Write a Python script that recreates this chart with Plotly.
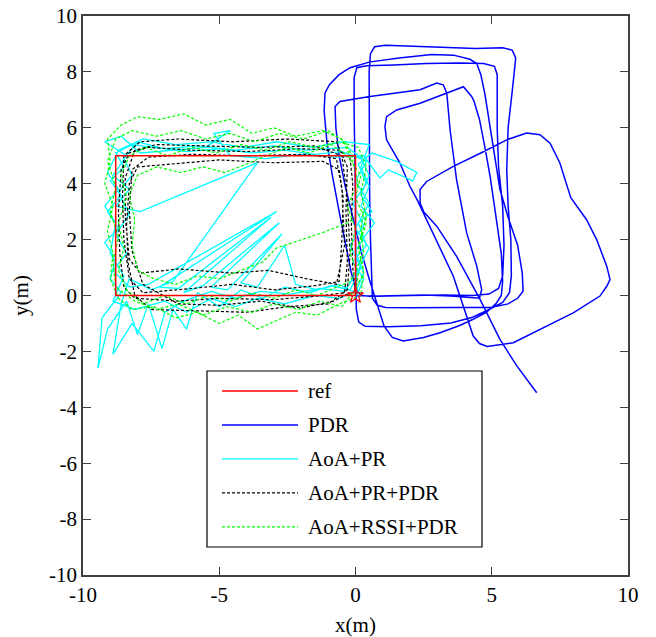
import plotly.graph_objects as go

# ---------------- data (metres) ----------------
ref_x = [0, 0, -8.8, -8.8, 0]
ref_y = [0, 5.0, 5.0, 0, 0]
start_x = [0]
start_y = [0]

pdr_pts = [
    # lap 1
    (0, 0), (0.8, -0.03), (2.0, 0.0), (3.2, 0.02), (4.3, 0.0), (4.9, 0.05), (5.25, 0.25), (5.4, 0.7),
    (5.45, 1.8), (5.4, 3.2), (5.25, 4.6), (5.2, 6.0), (5.2, 7.2), (5.2, 7.9), (5.1, 8.2), (4.7, 8.3),
    (3.8, 8.32), (2.6, 8.3), (1.4, 8.25), (0.4, 8.22), (0.05, 8.15), (-0.05, 7.8), (-0.05, 6.5),
    (-0.02, 5.0), (0.0, 3.5), (0.0, 2.0), (0.02, 0.6), (0.03, -0.5), (0.12, -0.95), (0.35, -1.1),
    # lap 2
    (1.2, -1.12), (2.4, -1.08), (3.5, -0.98), (4.3, -0.78), (4.9, -0.5), (5.4, -0.25), (5.65, 0.1),
    (5.72, 0.7), (5.7, 2.0), (5.6, 3.2), (5.55, 4.5), (5.6, 6.0), (5.75, 7.3), (5.85, 8.1), (5.88, 8.5),
    (5.75, 8.78), (5.4, 8.86), (4.4, 8.84), (3.2, 8.88), (2.0, 8.93), (1.1, 8.95), (0.7, 8.9),
    (0.55, 8.65), (0.5, 8.0), (0.5, 6.5), (0.5, 5.0), (0.52, 3.5), (0.55, 2.0), (0.58, 0.6),
    (0.62, -0.1), (0.8, -0.35), (1.1, -0.43),
    # lap 3
    (2.0, -0.44), (3.0, -0.43), (4.1, -0.44), (5.0, -0.42), (5.6, -0.3), (5.95, -0.1), (6.15, 0.15),
    (6.12, 0.8), (5.95, 1.8), (5.6, 2.8), (5.3, 3.8), (5.1, 5.0), (4.9, 6.2), (4.75, 7.2), (4.6, 7.9),
    (4.45, 8.3), (4.2, 8.45), (3.6, 8.6), (2.8, 8.62), (1.6, 8.5), (0.5, 8.35), (-0.2, 8.15),
    (-0.6, 7.9), (-0.95, 7.55), (-1.12, 7.25), (-1.15, 6.6), (-1.05, 5.5), (-0.85, 4.3), (-0.6, 3.0),
    (-0.35, 1.8), (-0.15, 0.8), (0.0, 0.25), (0.2, 0.0), (0.5, -0.03),
    # lap 4
    (1.4, 0.0), (2.5, 0.02), (3.5, -0.02), (4.2, -0.08), (4.55, -0.1), (4.63, 0.21), (4.45, 1.05),
    (4.08, 2.24), (3.84, 3.43), (3.71, 4.14), (3.47, 5.93), (3.38, 6.9), (3.35, 7.24), (3.22, 7.54),
    (2.98, 7.6), (2.37, 7.36), (1.5, 7.25), (0.53, 7.12), (-0.57, 6.94), (-0.75, 6.76), (-0.72, 6.0),
    (-0.6, 5.0), (-0.4, 4.0), (-0.1, 2.8), (0.2, 1.6), (0.5, 0.6), (0.8, -0.3), (1.05, -1.1),
    (1.35, -1.5), (1.75, -1.63),
    # lap 5
    (2.5, -1.5), (3.1, -1.33), (3.8, -1.08), (4.3, -0.86), (4.8, -0.6), (5.15, -0.3), (5.35, 0.0),
    (5.4, 0.5), (5.35, 1.5), (5.2, 2.5), (5.12, 3.07), (4.95, 4.2), (4.75, 5.3), (4.55, 6.3),
    (4.35, 6.95), (4.26, 7.12), (3.96, 7.47), (3.2, 7.2), (2.37, 6.88), (1.51, 6.64), (1.14, 6.4),
    (1.08, 6.05), (1.14, 5.57), (1.63, 4.74), (2.0, 3.9), (2.26, 3.43), (2.61, 2.71), (3.1, 1.64),
    (3.59, 0.69), (4.08, -0.74), (4.32, -1.45), (4.55, -1.72), (4.83, -1.82),
    # lap 6
    (5.79, -1.69), (6.77, -1.21), (7.99, -0.62), (8.97, -0.02), (9.22, 0.33), (9.34, 0.57),
    (9.22, 1.05), (8.85, 2.0), (8.48, 2.71), (7.9, 3.5), (7.5, 4.74), (7.14, 5.45), (6.77, 5.75),
    (6.28, 5.81), (5.55, 5.57), (4.6, 5.1), (3.59, 4.62), (2.61, 4.08), (2.37, 3.79), (2.37, 3.31),
    (2.5, 3.0), (2.98, 2.48), (3.71, 1.4), (4.57, -0.14), (5.3, -1.57), (5.92, -2.52), (6.3, -3.0),
    (6.65, -3.48),
]

aoa_pr_pts = [
    (0.05, 0.0), (0.3, 0.6), (-0.1, 1.2), (0.4, 1.8), (0.1, 2.6), (0.6, 3.0), (0.2, 3.6), (0.5, 4.3),
    (0.2, 4.9), (-0.5, 5.15), (-1.5, 5.05), (-2.6, 5.2), (-3.8, 5.1), (-5.0, 5.25), (-6.2, 5.15),
    (-7.3, 5.3), (-8.2, 5.4), (-8.8, 5.1), (-8.5, 4.6), (-9.0, 4.1), (-8.6, 3.6), (-9.1, 3.0),
    (-8.7, 2.4), (-9.2, 1.9), (-8.8, 1.3), (-9.0, 0.6), (-8.6, 0.1), (-9.3, -0.8), (-9.45, -2.6),
    (-9.1, -1.2), (-8.4, -0.2), (-8.0, -1.4), (-7.6, -0.3), (-7.1, -1.9), (-6.7, -0.5), (-6.2, -1.2),
    (-5.8, 0.1), (-5.0, -0.4), (-4.2, 0.2), (-3.4, -0.1), (-2.6, 0.3), (-1.7, 0.1), (-0.9, 0.35),
    (-0.2, 0.2),
    (0.2, 1.0), (-0.2, 1.8), (0.3, 2.5), (-0.1, 3.3), (0.4, 4.0), (0.1, 4.7), (0.6, 5.1), (1.5, 4.8),
    (2.25, 4.4), (2.1, 4.1), (1.2, 4.5), (0.9, 4.2), (0.3, 5.0), (-0.8, 4.95), (-2.0, 5.05),
    (-3.3, 4.9), (-4.6, 5.0), (-5.2, 5.8), (-4.6, 5.9), (-5.5, 5.3), (-6.8, 5.2), (-7.9, 5.1),
    (-8.6, 5.7), (-9.2, 5.5), (-8.4, 5.0), (-8.9, 4.3), (-8.3, 3.8), (-8.8, 3.2), (-7.9, 3.0),
    (-3.6, 4.75), (-6.7, 0.5), (-7.5, 0.2), (-8.3, 0.6), (-8.6, -0.3), (-8.9, -2.1), (-8.2, -1.0),
    (-7.4, -2.0), (-7.0, -0.6), (-6.3, -0.2), (-5.3, 0.15), (-4.4, -0.1), (-3.5, 0.15), (-2.4, 0.05),
    (-1.3, 0.25), (-0.4, 0.15),
    (0.1, 0.9), (0.5, 1.7), (0.0, 2.4), (0.5, 3.3), (0.0, 4.1), (0.4, 4.8), (-0.3, 5.3), (-1.8, 5.2),
    (-3.0, 5.35), (-4.4, 5.2), (-5.8, 5.35), (-7.0, 5.25), (-8.0, 5.5), (-8.5, 4.9), (-8.2, 4.3),
    (-8.7, 3.7), (-8.3, 2.9), (-8.8, 2.2), (-8.4, 1.5), (-8.9, 0.9), (-8.3, 0.3), (-7.6, 0.4),
    (-2.9, 3.0), (-7.2, 0.3), (-6.5, 0.25), (-3.1, 2.8), (-6.3, 0.1), (-5.6, 0.35), (-2.8, 2.6),
    (-5.3, 0.3), (-4.7, 0.2), (-2.7, 2.2), (-4.2, 0.45), (-3.6, 0.3), (-2.6, 1.8), (-2.2, 0.4),
    (-1.4, 0.2), (-0.6, 0.4), (0.0, 0.1),
    (0.3, 0.8), (0.0, 1.6), (0.4, 2.2), (0.7, 2.6), (0.2, 3.2), (0.5, 3.9), (0.2, 4.6), (0.5, 5.4),
    (-0.4, 5.5), (-1.6, 5.3), (-2.9, 5.5), (-4.1, 5.3), (-5.3, 5.5), (-6.6, 5.4), (-7.8, 5.6),
    (-8.7, 5.2), (-9.1, 4.4), (-8.7, 3.8), (-9.2, 3.2), (-8.8, 2.6), (-9.0, 1.5), (-8.5, 0.7),
    (-8.9, -0.2), (-8.1, -0.5), (-7.0, -0.2), (-6.2, -0.6), (-5.3, -0.1), (-4.4, -0.4), (-3.6, -0.1),
    (-2.6, -0.3), (-1.5, 0.0), (-0.6, -0.1), (0.1, 0.2),
]

aoa_pr_pdr_pts = [
    (0, 0), (-0.1, 1.0), (-0.15, 2.5), (-0.1, 4.0), (-0.2, 4.9), (-0.6, 5.2), (-2.0, 5.25),
    (-4.0, 5.15), (-6.0, 5.2), (-7.6, 5.3), (-8.3, 5.1), (-8.6, 4.5), (-8.7, 3.0), (-8.65, 1.5),
    (-8.5, 0.3), (-8.1, -0.1), (-6.5, -0.2), (-5.0, -0.1), (-3.0, -0.15), (-1.2, 0.0), (-0.4, 0.1),
    (-0.3, 1.2), (-0.35, 3.0), (-0.3, 4.6), (-0.7, 5.5), (-2.5, 5.6), (-4.5, 5.5), (-6.5, 5.6),
    (-7.9, 5.5), (-8.5, 5.0), (-8.55, 3.5), (-8.5, 2.0), (-8.3, 0.6), (-7.8, 0.1), (-6.0, 0.25),
    (-4.5, 0.4), (-3.0, 0.2), (-1.5, 0.35), (-0.6, 0.5),
    (-0.5, 2.0), (-0.45, 3.5), (-0.6, 4.5), (-1.2, 4.8), (-3.0, 4.75), (-5.0, 4.85), (-7.0, 4.7),
    (-8.0, 4.6), (-8.3, 4.0), (-8.4, 2.5), (-8.35, 1.2), (-8.1, 0.0), (-7.5, -0.5), (-6.0, -0.55),
    (-4.0, -0.6), (-2.5, -0.4), (-1.0, -0.3), (-0.3, 0.2),
    (-0.2, 1.5), (-0.3, 3.5), (-0.5, 5.0), (-1.5, 5.35), (-3.5, 5.3), (-5.5, 5.35), (-7.3, 5.4),
    (-8.1, 5.2), (-8.45, 4.2), (-8.45, 2.8), (-8.3, 1.3), (-7.9, 0.8), (-6.5, 0.95), (-4.5, 0.8),
    (-3.2, 0.9), (-1.8, 0.6), (-0.7, 0.4),
    (-0.4, 1.8), (-0.5, 3.8), (-0.7, 4.9), (-1.8, 5.05), (-4.0, 5.0), (-6.0, 5.05), (-7.6, 4.95),
    (-8.2, 4.5), (-8.3, 3.0), (-8.2, 1.6), (-7.8, 0.4), (-6.5, -0.3), (-5.0, -0.35), (-3.5, -0.2),
    (-2.0, -0.45), (-0.8, -0.2), (-0.2, 0.1),
]

aoa_rssi_pdr_pts = [
    (0, 0), (0.1, 0.8), (-0.2, 1.5), (0.0, 2.4), (-0.3, 3.2), (0.1, 4.0), (-0.1, 4.8), (-0.5, 5.6),
    (-1.2, 5.9), (-2.2, 5.7), (-3.0, 6.0), (-3.8, 5.8), (-4.6, 6.3), (-5.5, 6.1), (-6.3, 6.5),
    (-7.2, 6.3), (-8.0, 6.4), (-8.6, 6.1), (-9.1, 5.6), (-9.0, 4.8), (-9.2, 4.0), (-8.9, 3.2),
    (-9.1, 2.3), (-8.9, 1.5), (-9.0, 0.6), (-8.7, -0.1), (-8.2, -0.5), (-7.4, -0.4), (-6.6, -0.8),
    (-5.8, -0.6), (-5.0, -1.0), (-4.3, -0.7), (-3.6, -1.2), (-2.9, -0.9), (-2.2, -0.6), (-1.4, -0.7),
    (-0.6, -0.3), (0.2, 0.0),
    (0.3, 0.9), (0.1, 1.8), (0.4, 2.8), (0.2, 3.7), (0.4, 4.6), (0.1, 5.3), (-0.6, 5.5), (-1.5, 5.3),
    (-2.4, 5.5), (-3.3, 5.2), (-4.2, 5.4), (-5.1, 5.1), (-6.0, 5.3), (-6.9, 5.0), (-7.7, 5.3),
    (-8.3, 5.0), (-8.6, 4.3), (-8.4, 3.5), (-8.7, 2.6), (-8.5, 1.7), (-8.7, 0.9), (-8.4, 0.2),
    (-7.8, -0.3), (-7.0, 0.0), (-6.2, -0.3), (-5.4, 0.0), (-4.6, -0.2), (-3.8, 0.1), (-3.0, -0.1),
    (-2.2, 0.2), (-1.4, 0.0), (-0.7, 0.3), (-0.2, 0.5),
    (0.3, 1.5), (0.2, 2.4), (0.3, 3.0), (-0.3, 2.6), (-1.2, 2.25), (-2.0, 2.0), (-2.9, 1.7),
    (-3.4, 1.2), (-4.2, 0.9), (-5.0, 0.6), (-5.8, 0.7), (-6.6, 0.4), (-7.4, 0.6), (-8.0, 0.9),
    (-8.2, 1.8), (-8.1, 2.7), (-8.3, 3.6), (-8.0, 4.3), (-7.3, 4.6), (-6.4, 4.4), (-5.6, 4.6),
    (-4.8, 4.4), (-4.0, 4.7), (-3.3, 5.0), (-2.5, 5.3), (-1.7, 5.1), (-0.9, 5.4), (-0.3, 5.0),
    (0.2, 4.3), (0.0, 3.5), (0.4, 2.6), (0.1, 1.7), (0.3, 0.8), (-0.1, 0.1),
    (-0.5, -0.4), (-1.3, -0.2), (-2.1, -0.5), (-3.0, -0.3), (-3.8, -0.6), (-4.7, -0.4), (-5.6, -0.7),
    (-6.5, -0.3), (-7.3, -0.5), (-8.1, -0.2), (-8.8, 0.3), (-8.9, 1.2), (-8.7, 2.1), (-9.0, 3.0),
    (-8.8, 3.9), (-9.1, 4.8), (-8.8, 5.6), (-8.2, 5.9), (-7.3, 5.7), (-6.4, 5.9), (-5.5, 5.6),
    (-4.6, 5.8), (-3.7, 5.5), (-2.8, 5.8), (-1.9, 5.6), (-1.0, 5.9), (-0.4, 5.5), (0.0, 4.8),
]

legend_labels = ["ref", "PDR", "AoA+PR", "AoA+PR+PDR", "AoA+RSSI+PDR"]
x_ticks = [-10, -5, 0, 5, 10]
y_ticks = [-10, -8, -6, -4, -2, 0, 2, 4, 6, 8, 10]

# ---------------- styles ----------------
styles = {
    "ref": dict(color="#ff0000", width=1.5, dash="solid"),
    "PDR": dict(color="#0000ff", width=1.5, dash="solid"),
    "AoA+PR": dict(color="#00ffff", width=1.3, dash="solid"),
    "AoA+PR+PDR": dict(color="#000000", width=1.2, dash="3px,2px"),
    "AoA+RSSI+PDR": dict(color="#00ff00", width=1.2, dash="3px,2px"),
}
FONT = "Liberation Serif"


def xy(pts):
    return [p[0] for p in pts], [p[1] for p in pts]


fig = go.Figure()
for name, pts in [("PDR", pdr_pts), ("AoA+PR", aoa_pr_pts),
                  ("AoA+PR+PDR", aoa_pr_pdr_pts), ("AoA+RSSI+PDR", aoa_rssi_pdr_pts)]:
    px_, py_ = xy(pts)
    fig.add_trace(go.Scatter(x=px_, y=py_, mode="lines", name=name,
                             line=styles[name], showlegend=False))
fig.add_trace(go.Scatter(x=ref_x, y=ref_y, mode="lines", name="ref",
                         line=styles["ref"], showlegend=False))
fig.add_trace(go.Scatter(x=start_x, y=start_y, mode="markers", showlegend=False,
                         marker=dict(symbol="star-open", size=12, color="#ff0000",
                                     line=dict(width=1.2, color="#ff0000"))))

# ---------------- manual legend (paper coords) ----------------
box_x0, box_x1, box_y0, box_y1 = 0.2275, 0.7321, 0.0501, 0.3649
fig.add_shape(type="rect", xref="paper", yref="paper", x0=box_x0, x1=box_x1, y0=box_y0, y1=box_y1,
              line=dict(color="#000000", width=1.2), fillcolor="white", layer="above")
row_top, row_step = 0.3292, 0.0608
for i, lab in enumerate(legend_labels):
    yy = row_top - i * row_step
    st = styles[lab]
    fig.add_shape(type="line", xref="paper", yref="paper", x0=0.255, x1=0.3945, y0=yy, y1=yy,
                  line=dict(color=st["color"], width=st["width"], dash=st["dash"]), layer="above")
    fig.add_annotation(xref="paper", yref="paper", x=0.409, y=yy, text=lab, showarrow=False,
                       xanchor="left", yanchor="middle",
                       font=dict(family=FONT, size=21, color="#000000"))

axis_common = dict(showline=True, mirror="ticks", linecolor="#404040", linewidth=1.5,
                   ticks="inside", ticklen=8, tickwidth=1.2, tickcolor="#404040",
                   showgrid=False, zeroline=False, automargin=False,
                   tickfont=dict(family=FONT, size=21, color="#000000"))
fig.update_xaxes(range=[-10, 10], tickvals=x_ticks, ticktext=[str(v) for v in x_ticks],
                 title=dict(text="x(m)", font=dict(family=FONT, size=21, color="#000000")),
                 **axis_common)
fig.update_yaxes(range=[-10, 10], tickvals=y_ticks, ticktext=[str(v) for v in y_ticks],
                 title=dict(text="y(m)", font=dict(family=FONT, size=21, color="#000000")),
                 **axis_common)
fig.update_layout(width=656, height=637, margin=dict(l=83, r=28, t=16, b=62),
                  plot_bgcolor="white", paper_bgcolor="white", showlegend=False,
                  font=dict(family=FONT))
fig.write_html("out.html", config={"displayModeBar": False},
               post_script="document.body.style.margin='0';document.body.style.padding='0';"
                           "document.body.style.overflow='hidden';")
